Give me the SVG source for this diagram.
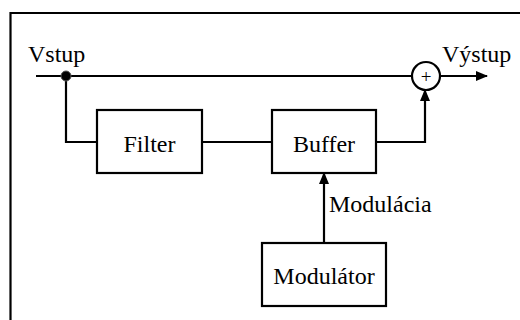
<svg xmlns="http://www.w3.org/2000/svg" width="520" height="320" viewBox="0 0 520 320">
<style>
.ln{fill:none;stroke:#000;stroke-width:2.2}
.box{fill:#fff;stroke:#000;stroke-width:2.2}
.t{font-family:"Liberation Serif",serif;font-size:24px;fill:#000}
.c{text-anchor:middle}
</style>
<defs>
<marker id="ah" markerWidth="12" markerHeight="10" refX="11" refY="5" orient="auto" markerUnits="userSpaceOnUse">
<path d="M0,0 L12,5 L0,10 Z" fill="#000"/>
</marker>
</defs>
<rect width="520" height="320" fill="#fff"/>
<path d="M10.5,320 V13 H520" class="ln" stroke-width="2.4"/>
<g id="connectors">
<path d="M36,76 H412" class="ln"/>
<path d="M440,76 H487" class="ln" marker-end="url(#ah)"/>
<path d="M66,76 V142 H97" class="ln"/>
<path d="M202,142 H272" class="ln"/>
<path d="M376,142 H425 V90" class="ln" marker-end="url(#ah)"/>
<path d="M324,243 V173" class="ln" marker-end="url(#ah)"/>
<circle cx="66" cy="76" r="5" fill="#000" stroke="#555" stroke-width="1"/>
<text x="329" y="212" class="t">Modulácia</text>
</g>
<g id="input"><text x="28" y="62" class="t">Vstup</text></g>
<g id="output"><text x="442" y="62" class="t">Výstup</text></g>
<g id="sum">
<circle cx="426" cy="76" r="14" class="box"/>
<text x="426" y="82.5" class="t c" style="font-size:19px">+</text>
</g>
<g id="filter">
<rect x="97" y="110" width="105" height="63" class="box"/>
<text x="149.5" y="152" class="t c">Filter</text>
</g>
<g id="buffer">
<rect x="272" y="110" width="104" height="63" class="box"/>
<text x="324" y="152" class="t c">Buffer</text>
</g>
<g id="modulator">
<rect x="262" y="243" width="124" height="63" class="box"/>
<text x="324" y="284" class="t c">Modulátor</text>
</g>
</svg>
